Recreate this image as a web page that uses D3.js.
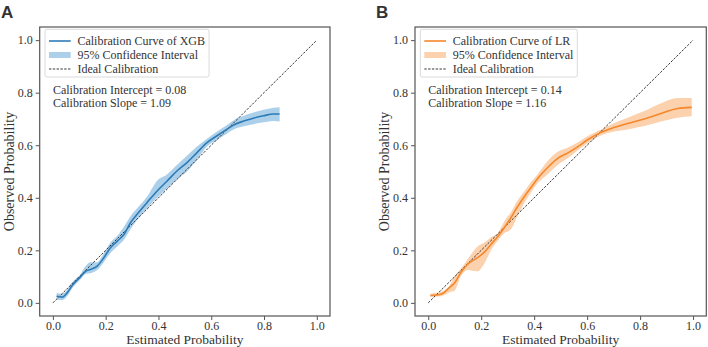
<!DOCTYPE html>
<html>
<head>
<meta charset="utf-8">
<script src="https://cdn.jsdelivr.net/npm/d3@7"></script>
<style>
  body { margin: 0; background: #fff; }
  text { font-family: "Liberation Serif", serif; fill: #333; }
</style>
</head>
<body>
<div id="chart"></div>
<script>
// Data
var tickValues = [0, 0.2, 0.4, 0.6, 0.8, 1.0];

// XGB calibration curve + 95% CI
var xgbX  = [0.014,0.035,0.054,0.073,0.105,0.124,0.142,0.168,0.193,0.218,0.244,0.269,0.294,0.319,0.357,0.395,0.433,0.47,0.508,0.546,0.584,0.622,0.66,0.685,0.723,0.76,0.798,0.836,0.859];
var xgbY  = [0.025,0.022,0.038,0.066,0.10,0.12,0.127,0.14,0.172,0.21,0.235,0.26,0.305,0.337,0.382,0.426,0.464,0.502,0.534,0.572,0.61,0.636,0.661,0.677,0.692,0.703,0.712,0.719,0.719];
var xgbLo = [0.012,0.010,0.025,0.055,0.09,0.11,0.113,0.125,0.155,0.19,0.215,0.24,0.28,0.315,0.36,0.40,0.435,0.47,0.50,0.545,0.595,0.62,0.645,0.66,0.672,0.68,0.687,0.692,0.69];
var xgbHi = [0.038,0.035,0.05,0.078,0.11,0.14,0.155,0.155,0.19,0.23,0.255,0.29,0.33,0.36,0.405,0.465,0.49,0.525,0.56,0.595,0.625,0.652,0.677,0.695,0.712,0.725,0.735,0.743,0.745];

// LR calibration curve + 95% CI
var lrX  = [0.008,0.048,0.086,0.098,0.123,0.148,0.186,0.212,0.237,0.262,0.287,0.312,0.337,0.363,0.388,0.413,0.451,0.489,0.526,0.564,0.602,0.652,0.703,0.753,0.816,0.879,0.942,0.995];
var lrY  = [0.028,0.033,0.064,0.074,0.115,0.146,0.172,0.193,0.223,0.252,0.286,0.324,0.366,0.405,0.439,0.473,0.515,0.55,0.57,0.594,0.621,0.649,0.668,0.683,0.70,0.721,0.74,0.744];
var lrLo = [0.022,0.025,0.042,0.045,0.10,0.125,0.12,0.15,0.20,0.235,0.265,0.28,0.33,0.38,0.42,0.455,0.49,0.525,0.55,0.58,0.608,0.637,0.652,0.66,0.673,0.69,0.705,0.71];
var lrHi = [0.035,0.042,0.075,0.10,0.13,0.165,0.215,0.23,0.25,0.265,0.31,0.345,0.39,0.425,0.46,0.49,0.54,0.575,0.59,0.61,0.635,0.66,0.685,0.705,0.73,0.76,0.78,0.78];

var panels = [
  { letter: "A", model: "XGB", x: xgbX, y: xgbY, lo: xgbLo, hi: xgbHi,
    intercept: "0.08", slope: "1.09", line: "#2c7bb6", band: "#add0ea",
    left: 39.7, right: 330, letterX: 1 },
  { letter: "B", model: "LR", x: lrX, y: lrY, lo: lrLo, hi: lrHi,
    intercept: "0.14", slope: "1.16", line: "#f5872a", band: "#fcd2ae",
    left: 415, right: 706.3, letterX: 376 }
];

var width = 708, height = 347,
    plotTop = 27, plotBottom = 316;

var svg = d3.select("#chart").append("svg")
    .attr("width", width)
    .attr("height", height);

panels.forEach(function(p) {
  var x = d3.scaleLinear().domain([-0.05, 1.05]).range([p.left, p.right]);
  var y = d3.scaleLinear().domain([-0.05, 1.05]).range([plotBottom, plotTop]);
  var g = svg.append("g");

  var pts = p.x.map(function(v, i) { return { x: v, y: p.y[i], lo: p.lo[i], hi: p.hi[i] }; });

  // confidence band
  g.append("path")
    .datum(pts)
    .attr("fill", p.band)
    .attr("d", d3.area()
      .curve(d3.curveMonotoneX)
      .x(function(d) { return x(d.x); })
      .y0(function(d) { return y(d.lo); })
      .y1(function(d) { return y(d.hi); }));

  // ideal diagonal
  g.append("line")
    .attr("x1", x(0)).attr("y1", y(0))
    .attr("x2", x(1)).attr("y2", y(1))
    .attr("stroke", "#222")
    .attr("stroke-width", 0.9)
    .attr("stroke-dasharray", "2.4,1.4");

  // calibration curve
  g.append("path")
    .datum(pts)
    .attr("fill", "none")
    .attr("stroke", p.line)
    .attr("stroke-width", 1.6)
    .attr("d", d3.line()
      .curve(d3.curveMonotoneX)
      .x(function(d) { return x(d.x); })
      .y(function(d) { return y(d.y); }));

  // axes
  var xAxis = g.append("g")
    .attr("transform", "translate(0," + plotBottom + ")")
    .call(d3.axisBottom(x).tickValues(tickValues).tickFormat(d3.format(".1f")).tickSize(4).tickPadding(1));
  var yAxis = g.append("g")
    .attr("transform", "translate(" + p.left + ",0)")
    .call(d3.axisLeft(y).tickValues(tickValues).tickFormat(d3.format(".1f")).tickSize(4).tickPadding(3));
  [xAxis, yAxis].forEach(function(a) {
    a.select(".domain").remove();
    a.selectAll("line").attr("stroke", "#555");
    a.selectAll("text")
      .style("font-family", "'Liberation Serif', serif")
      .style("font-size", "12px")
      .attr("fill", "#333");
  });

  // frame
  g.append("rect")
    .attr("x", p.left).attr("y", plotTop)
    .attr("width", p.right - p.left).attr("height", plotBottom - plotTop)
    .attr("fill", "none")
    .attr("stroke", "#555")
    .attr("stroke-width", 1.2);

  // axis titles
  g.append("text")
    .attr("x", (p.left + p.right) / 2)
    .attr("y", 344)
    .attr("text-anchor", "middle")
    .style("font-size", "13.5px")
    .text("Estimated Probability");
  g.append("text")
    .attr("transform", "translate(" + (p.left - 26) + "," + ((plotTop + plotBottom) / 2) + ") rotate(-90)")
    .attr("text-anchor", "middle")
    .style("font-size", "14px")
    .text("Observed Probability");

  // panel letter
  g.append("text")
    .attr("x", p.letterX)
    .attr("y", 18)
    .style("font-family", "'Liberation Sans', Arial, sans-serif")
    .style("font-weight", "bold")
    .style("font-size", "17px")
    .attr("fill", "#333")
    .text(p.letter);

  // legend
  var lx = p.left + 5.3, ly = 29.3;
  var leg = g.append("g");
  var box = leg.append("rect")
    .attr("x", lx).attr("y", ly)
    .attr("height", 47.7)
    .attr("rx", 2)
    .attr("fill", "#fff")
    .attr("fill-opacity", 0.8)
    .attr("stroke", "#d0d0d0")
    .attr("stroke-width", 0.8);
  var rows = [
    { label: "Calibration Curve of " + p.model, kind: "line" },
    { label: "95% Confidence Interval", kind: "band" },
    { label: "Ideal Calibration", kind: "dash" }
  ];
  var maxW = 0;
  rows.forEach(function(r, i) {
    var cy = ly + 11.7 + i * 14;
    if (r.kind === "line") {
      leg.append("line").attr("x1", lx + 4).attr("x2", lx + 25.7)
        .attr("y1", cy).attr("y2", cy)
        .attr("stroke", p.line).attr("stroke-width", 1.6);
    } else if (r.kind === "band") {
      leg.append("rect").attr("x", lx + 4).attr("y", cy - 3)
        .attr("width", 21.7).attr("height", 6)
        .attr("fill", p.band);
    } else {
      leg.append("line").attr("x1", lx + 4).attr("x2", lx + 25.7)
        .attr("y1", cy).attr("y2", cy)
        .attr("stroke", "#222").attr("stroke-width", 0.9)
        .attr("stroke-dasharray", "2.4,1.4");
    }
    var t = leg.append("text")
      .attr("x", lx + 32.4)
      .attr("y", cy)
      .attr("dy", "0.35em")
      .style("font-size", "12px")
      .text(r.label);
    maxW = Math.max(maxW, t.node().getComputedTextLength());
  });
  box.attr("width", 32.4 + maxW + 4);

  // calibration stats
  g.append("text")
    .attr("x", x(0)).attr("y", 90).attr("dy", "0.35em")
    .style("font-size", "12px")
    .text("Calibration Intercept = " + p.intercept);
  g.append("text")
    .attr("x", x(0)).attr("y", 102.7).attr("dy", "0.35em")
    .style("font-size", "12px")
    .text("Calibration Slope = " + p.slope);
});
</script>
</body>
</html>
